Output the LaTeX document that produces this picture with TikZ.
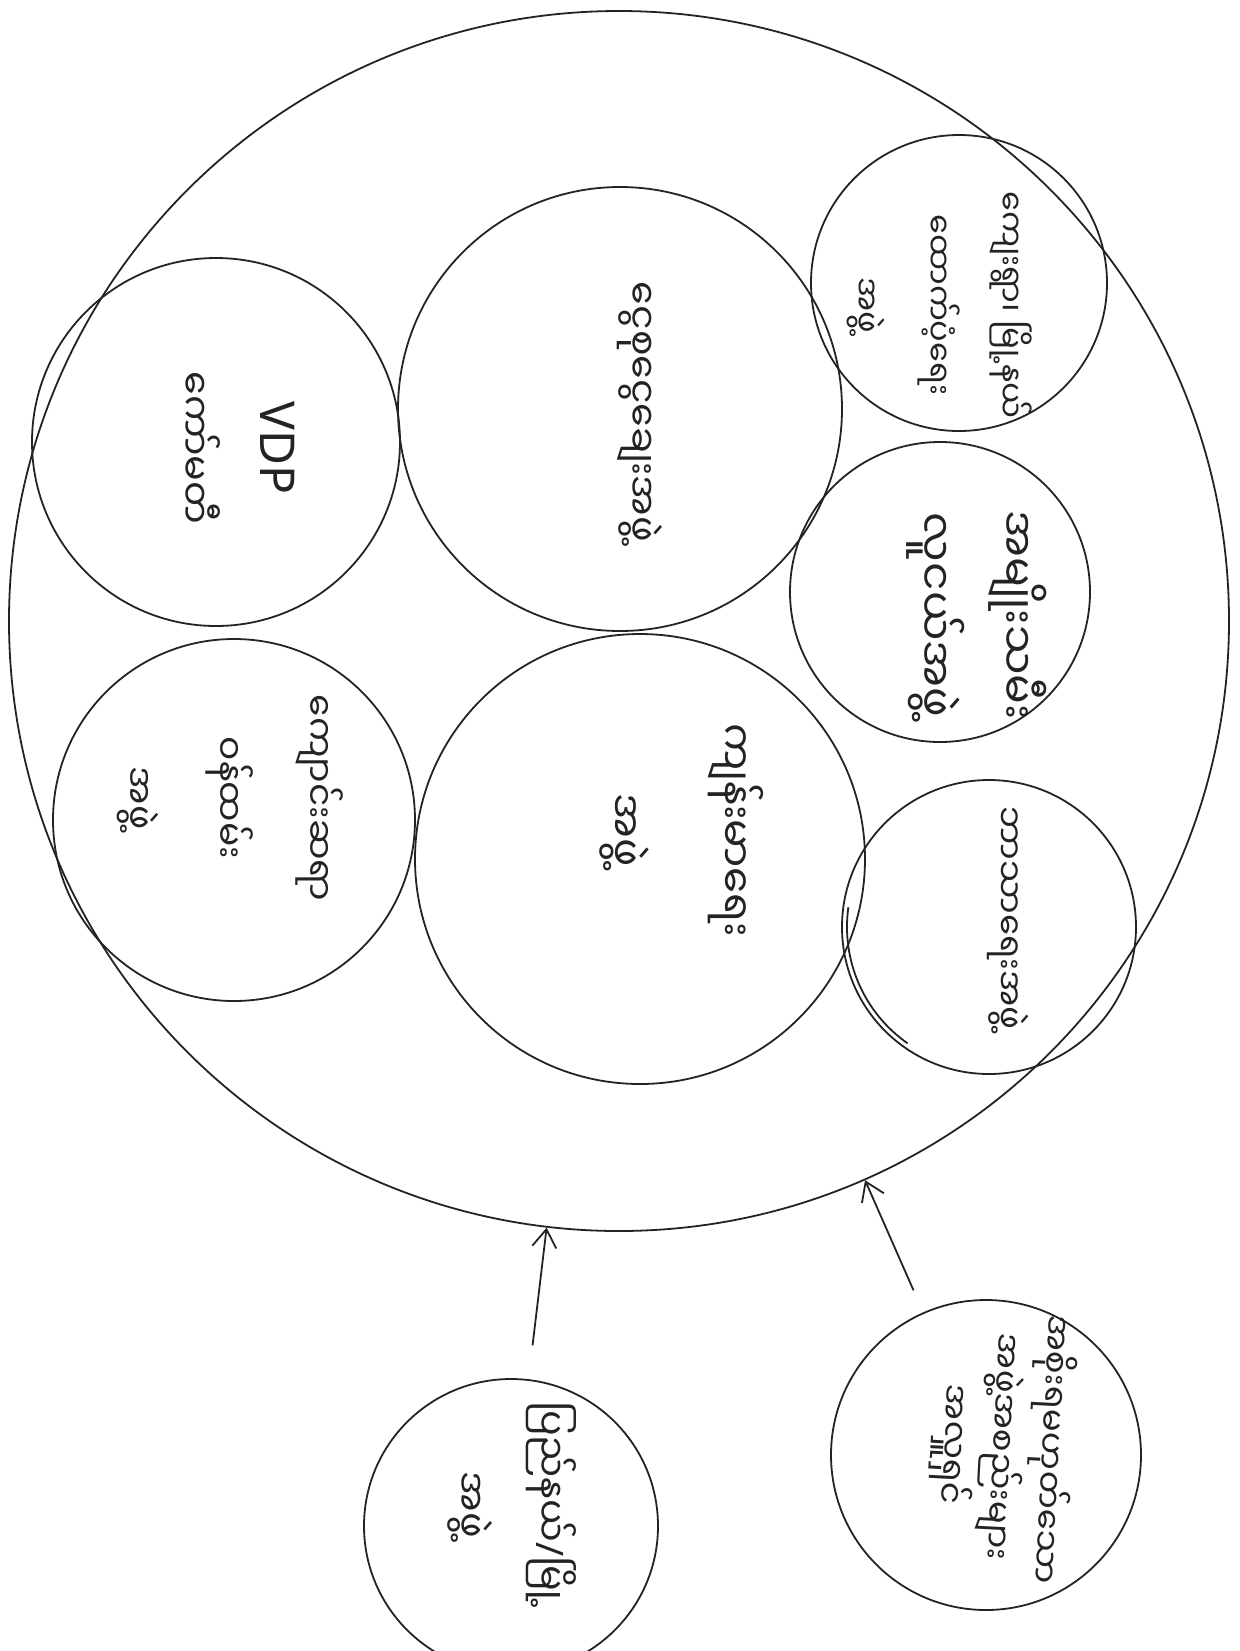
\documentclass[tikz,border=0pt]{standalone}
\usepackage{fontspec}
\setmainfont{Noto Sans}
\newfontfamily\mmfont[Script=Myanmar]{Noto Sans Myanmar UI}
\definecolor{penink}{RGB}{35,35,35}
\usetikzlibrary{arrows.meta}

\begin{document}
\begin{tikzpicture}[
  x=0.5pt,y=-0.5pt,
  ring/.style={draw=penink,circle,line width=0.9pt,inner sep=0pt},
  mmtext/.style n args={2}{rotate=-90,align=center,text=penink,inner sep=0pt,
                           font=\mmfont\fontsize{#1}{#2}\selectfont},
  link/.style={-{Straight Barb[length=9pt,width=12pt]},line width=0.9pt,draw=penink},
]
  \useasboundingbox (0,0) rectangle (1239,1651);

  % Village boundary
  \node[ring,minimum size=610pt] (village) at (619,621) {};

  % Groups inside the village
  \node[ring,minimum size=184pt] (vdp)     at (216,442) {};
  \node[ring,minimum size=181pt] (school)  at (234,820) {};
  \node[ring,minimum size=222pt] (savings) at (620,409) {};
  \node[ring,minimum size=225pt] (health)  at (640,859) {};
  \node[ring,minimum size=148pt] (admin)   at (959,283) {};
  \node[ring,minimum size=150pt] (youth)   at (940,592) {};
  \node[ring,minimum size=147pt] (faith)   at (989,927) {};
  % second pen stroke on the left of the last ring
  \draw[penink,line width=0.9pt] (989,927) ++(125:142) arc[start angle=125,end angle=188,radius=142];

  \node[mmtext={19}{40}] (vdptxt) at (238,448)
    {{\rmfamily\fontsize{24}{40}\selectfont VDP}\\ကော်မတီ};
  \node[mmtext={18}{45}] (schooltxt) at (230,798) {ကျောင်းဆရာ\\ဝန်ထမ်း\\အဖွဲ့};
  \node[mmtext={19}{40}] (savingstxt) at (640,412) {ငွေစုငွေချေးအဖွဲ့};
  \node[mmtext={21}{55}] (healthtxt) at (682,830) {ကျန်းမာရေး\\အဖွဲ့};
  \node[mmtext={16}{36}] (admintxt) at (940,305) {ကျေးရွာ၊ မြို့နယ်\\ထောက်ပံ့ရေး\\အဖွဲ့};
  \node[mmtext={22}{41}] (youthtxt) at (977,615) {အမျိုးသမီး\\လူငယ်အဖွဲ့};
  \node[mmtext={17}{40}] (faithtxt) at (1008,918) {ဘာသာရေးအဖွဲ့};

  % Outside actors
  \node[ring,minimum size=147pt] (township) at (511,1526) {};
  \node[ring,minimum size=155pt] (donor)    at (986,1455) {};

  \node[mmtext={19}{40}] (townshiptxt) at (512,1505)
    {ပြည်နယ်{\rmfamily/}မြို့\\အဖွဲ့};
  \node[mmtext={17}{24.5},rotate=-3] (donortxt) at (1002,1447)
    {အစိုးရမဟုတ်သော\\အဖွဲ့အစည်းများ\\အလှူရှင်};

  \draw[link,shorten <=17pt] (township) -- (village);
  \draw[link,shorten <=12pt] (donor) -- (village);
\end{tikzpicture}
\end{document}
